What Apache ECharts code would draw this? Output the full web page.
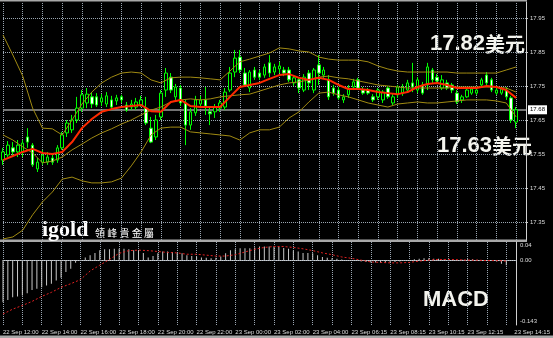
<!DOCTYPE html>
<html><head><meta charset="utf-8">
<script src="https://cdn.jsdelivr.net/npm/echarts@6/dist/echarts.min.js"></script>
<style>html,body{margin:0;padding:0;background:#000;}#c{width:553px;height:338px;}</style>
</head><body><div id="c"></div>
<script>
// ---- axis tick labels ----
const priceTicks = [17.35, 17.45, 17.55, 17.65, 17.75, 17.85, 17.95];
const macdTicks = [0.04, 0.00, -0.143];
const macdTickText = ['0.04', '0.00', '-0.143'];
const timeTicks = ['22 Sep 12:00','22 Sep 14:00','22 Sep 16:00','22 Sep 18:00','22 Sep 20:00','22 Sep 22:00',
  '23 Sep 00:00','23 Sep 02:00','23 Sep 04:00','23 Sep 06:15','23 Sep 08:15','23 Sep 10:15','23 Sep 12:15','23 Sep 14:15'];
const lastPrice = 17.68;

// ---- 15-minute candles: [open, high, low, close] ----
const ohlc = [
[17.532,17.568,17.518,17.556],[17.547,17.588,17.541,17.576],[17.568,17.585,17.544,17.556],[17.556,17.591,17.541,17.576],
[17.556,17.591,17.541,17.582],[17.600,17.626,17.568,17.585],[17.576,17.582,17.512,17.518],[17.506,17.538,17.497,17.526],
[17.526,17.562,17.518,17.547],[17.526,17.556,17.518,17.541],[17.538,17.547,17.518,17.526],[17.532,17.576,17.524,17.568],
[17.568,17.615,17.562,17.606],[17.612,17.650,17.600,17.641],[17.621,17.665,17.612,17.650],[17.650,17.718,17.641,17.685],
[17.685,17.738,17.674,17.724],[17.700,17.744,17.685,17.726],[17.718,17.732,17.685,17.697],[17.718,17.729,17.688,17.694],
[17.703,17.726,17.691,17.715],[17.697,17.732,17.688,17.721],[17.709,17.721,17.679,17.688],[17.706,17.724,17.694,17.715],
[17.718,17.724,17.700,17.709],[17.694,17.703,17.674,17.679],[17.688,17.709,17.679,17.697],[17.688,17.715,17.679,17.703],
[17.694,17.721,17.688,17.709],[17.685,17.718,17.635,17.641],[17.626,17.659,17.582,17.585],[17.600,17.665,17.591,17.650],
[17.659,17.738,17.650,17.729],[17.738,17.803,17.718,17.788],[17.776,17.788,17.729,17.738],[17.718,17.756,17.709,17.747],
[17.744,17.753,17.691,17.700],[17.700,17.709,17.576,17.635],[17.635,17.685,17.621,17.674],[17.671,17.721,17.662,17.709],
[17.697,17.721,17.685,17.709],[17.709,17.747,17.665,17.691],[17.674,17.688,17.635,17.668],[17.674,17.697,17.656,17.688],
[17.685,17.709,17.674,17.700],[17.688,17.744,17.679,17.732],[17.738,17.806,17.732,17.788],[17.791,17.856,17.776,17.832],
[17.835,17.856,17.788,17.797],[17.788,17.803,17.747,17.753],[17.744,17.797,17.732,17.791],[17.797,17.806,17.768,17.776],
[17.788,17.797,17.768,17.776],[17.782,17.815,17.774,17.806],[17.818,17.841,17.776,17.788],[17.791,17.815,17.782,17.806],
[17.800,17.821,17.788,17.809],[17.797,17.806,17.779,17.788],[17.797,17.806,17.762,17.768],[17.759,17.782,17.750,17.774],
[17.768,17.776,17.729,17.744],[17.738,17.785,17.732,17.776],[17.788,17.797,17.738,17.759],[17.738,17.803,17.729,17.797],
[17.812,17.841,17.753,17.788],[17.782,17.806,17.774,17.797],[17.768,17.782,17.709,17.718],[17.744,17.753,17.721,17.729],
[17.738,17.747,17.709,17.715],[17.709,17.726,17.700,17.718],[17.724,17.753,17.715,17.744],[17.747,17.771,17.738,17.762],
[17.768,17.774,17.738,17.744],[17.738,17.747,17.724,17.729],[17.738,17.744,17.724,17.729],[17.718,17.726,17.703,17.709],
[17.718,17.744,17.709,17.738],[17.709,17.738,17.700,17.732],[17.744,17.750,17.712,17.718],[17.700,17.726,17.694,17.718],
[17.724,17.753,17.715,17.747],[17.729,17.756,17.721,17.747],[17.738,17.768,17.732,17.759],[17.759,17.818,17.732,17.747],
[17.738,17.776,17.729,17.768],[17.753,17.762,17.724,17.729],[17.753,17.818,17.738,17.806],[17.797,17.803,17.759,17.768],
[17.776,17.785,17.756,17.765],[17.744,17.782,17.738,17.768],[17.759,17.768,17.738,17.744],[17.753,17.759,17.729,17.738],
[17.729,17.738,17.697,17.703],[17.709,17.724,17.700,17.718],[17.718,17.744,17.715,17.738],[17.729,17.747,17.724,17.741],
[17.729,17.744,17.724,17.738],[17.753,17.774,17.744,17.768],[17.782,17.791,17.747,17.759],[17.768,17.774,17.732,17.738],
[17.729,17.744,17.724,17.738],[17.729,17.747,17.724,17.741],[17.738,17.747,17.709,17.718],[17.715,17.721,17.641,17.650],
[17.644,17.688,17.626,17.680]
];

// ---- indicator lines, read every 2nd bar ----
const upperBand = [17.900,17.841,17.779,17.685,17.626,17.624,17.606,17.650,17.697,17.732,17.759,17.776,17.788,17.791,17.788,17.768,17.759,17.774,17.776,17.776,17.774,17.771,17.768,17.794,17.821,17.829,17.838,17.847,17.862,17.859,17.853,17.850,17.835,17.829,17.826,17.826,17.826,17.821,17.809,17.800,17.794,17.791,17.791,17.791,17.791,17.791,17.788,17.788,17.788,17.788,17.788,17.797,17.806];
const middleBand = [17.606,17.591,17.571,17.553,17.524,17.529,17.541,17.562,17.579,17.597,17.612,17.624,17.638,17.650,17.665,17.679,17.688,17.703,17.709,17.712,17.709,17.712,17.718,17.721,17.724,17.726,17.735,17.744,17.753,17.759,17.762,17.768,17.776,17.779,17.774,17.771,17.765,17.759,17.753,17.750,17.747,17.744,17.744,17.744,17.744,17.744,17.747,17.747,17.747,17.747,17.747,17.744,17.732];
const lowerBand = [17.300,17.306,17.326,17.371,17.409,17.438,17.476,17.482,17.471,17.465,17.465,17.468,17.479,17.515,17.556,17.606,17.626,17.629,17.629,17.615,17.612,17.609,17.606,17.603,17.591,17.612,17.621,17.621,17.629,17.656,17.674,17.703,17.729,17.732,17.724,17.718,17.709,17.700,17.694,17.688,17.697,17.700,17.703,17.700,17.700,17.703,17.706,17.709,17.709,17.709,17.706,17.700,17.659];
const redMA = [17.532,17.544,17.556,17.565,17.553,17.550,17.556,17.585,17.626,17.653,17.674,17.682,17.688,17.691,17.694,17.676,17.674,17.703,17.709,17.691,17.688,17.688,17.688,17.718,17.747,17.753,17.759,17.771,17.782,17.785,17.774,17.768,17.774,17.768,17.753,17.741,17.741,17.738,17.732,17.729,17.726,17.732,17.747,17.756,17.759,17.753,17.744,17.744,17.744,17.750,17.747,17.738,17.715];

// ---- MACD ----
const macdMain = [
-0.093,-0.088,-0.082,-0.080,-0.078,-0.073,-0.066,-0.063,-0.060,-0.056,
-0.052,-0.045,-0.039,-0.026,-0.019,-0.006,-0.002,0.006,0.011,0.016,
0.022,0.024,0.024,0.025,0.025,0.025,0.024,0.022,0.021,0.016,
0.006,0.009,0.015,0.019,0.019,0.018,0.016,0.015,0.011,0.009,
0.008,0.006,0.005,0.004,0.005,0.008,0.015,0.022,0.024,0.026,
0.026,0.026,0.028,0.030,0.030,0.030,0.030,0.029,0.027,0.025,
0.021,0.019,0.016,0.016,0.015,0.011,0.007,0.005,0.004,0.003,
0.0015,0.0005,0.0005,-0.0015,-0.003,-0.004,-0.005,-0.005,-0.006,-0.006,
-0.005,-0.004,-0.003,-0.002,-0.001,0.002,0.003,0.004,0.004,0.003,
0.003,0.001,0.0005,-0.001,0.0005,0.001,0.002,0.002,0.001,0.0005,
-0.001,-0.001,-0.003,-0.008,-0.011];
const signalLine = [-0.119,-0.108,-0.100,-0.091,-0.080,-0.071,-0.060,-0.052,-0.043,-0.024,-0.011,0.0015,0.015,0.021,0.022,0.021,0.019,0.017,0.016,0.013,0.013,0.011,0.009,0.009,0.012,0.018,0.024,0.028,0.030,0.030,0.028,0.025,0.021,0.016,0.012,0.007,0.004,0.000,-0.004,-0.005,-0.006,-0.006,-0.005,-0.002,0.000,0.0015,0.0015,0.001,0.000,0.000,-0.001,-0.001,-0.002];

// ---- build ----
const N = ohlc.length + 2; // chart shift: two empty slots on the right
const cats = Array.from({length: N}, (_, i) => String(i));
const pad = arr => { const o = new Array(N).fill(null); arr.forEach((v, i) => o[i] = v); return o; };
const every2 = arr => { const o = new Array(N).fill(null); arr.forEach((v, j) => o[2 * j] = v); return o; };
const candleData = ohlc.map(r => [r[0], r[3], r[2], r[1]]);
const gridCats = cats.filter((c, i) => i % 4 === 0); // a vertical grid line every 4 bars

const gridColor = '#9aa5b1';
const textColor = '#dcdcdc';
const bandColor = '#a08a12';
const gridLine = {color: gridColor, type: 'dotted', width: 1};
const gridItems = (hValues) => [
  ...hValues.map(v => ({yAxis: v, lineStyle: gridLine, label: {show: false}})),
  ...gridCats.map(c => ({xAxis: c, lineStyle: gridLine, label: {show: false}}))
];

const chart = echarts.init(document.getElementById('c'), null, {renderer: 'canvas'});
chart.setOption({
  backgroundColor: '#000000',
  animation: false,
  grid: [
    {left: 3, right: 27, top: 2, height: 238},
    {left: 3, right: 27, top: 242, height: 83}
  ],
  xAxis: [
    {type: 'category', gridIndex: 0, data: cats, boundaryGap: false,
     axisLine: {show: false}, axisTick: {show: false}, axisLabel: {show: false}, splitLine: {show: false}},
    {type: 'category', gridIndex: 1, data: cats, boundaryGap: false,
     axisLine: {show: true, lineStyle: {color: '#d0d0d0', width: 1}}, axisTick: {show: false},
     axisLabel: {interval: 7, align: 'left', color: textColor, fontSize: 6, margin: 4,
       fontFamily: 'Liberation Sans',
       formatter: (v) => { const k = Number(v) / 8; const t = timeTicks[k] || '';
         return k === timeTicks.length - 1 ? '{s|' + t + '}' : t; },
       rich: {s: {color: textColor, fontSize: 6, fontFamily: 'Liberation Sans', padding: [0, 0, 0, 8]}}},
     splitLine: {show: false}}
  ],
  yAxis: [
    {type: 'value', gridIndex: 0, position: 'right', min: 17.297, max: 17.997, scale: true,
     axisLine: {show: true, lineStyle: {color: '#cfcfcf', width: 1}},
     axisTick: {show: true, length: 2, customValues: priceTicks, lineStyle: {color: '#cfcfcf'}},
     axisLabel: {customValues: priceTicks, color: textColor, fontSize: 6, margin: 4, fontFamily: 'Liberation Sans',
       formatter: v => v.toFixed(2)},
     splitLine: {show: false}},
    {type: 'value', gridIndex: 1, position: 'right', min: -0.143, max: 0.04,
     axisLine: {show: true, lineStyle: {color: '#cfcfcf', width: 1}},
     axisTick: {show: false},
     axisLabel: {customValues: macdTicks, color: textColor, fontSize: 6, margin: 4, fontFamily: 'Liberation Sans',
       formatter: v => { const k = macdTicks.findIndex(t => Math.abs(t - v) < 1e-9); const s = macdTickText[k];
         if (k === 0) return '{t|' + s + '}'; if (k === 2) return '{b|' + s + '}'; return s; },
       rich: {t: {color: textColor, fontSize: 6, fontFamily: 'Liberation Sans', padding: [7, 0, 0, 0]},
              b: {color: textColor, fontSize: 6, fontFamily: 'Liberation Sans', padding: [0, 0, 7, 0]}}},
     splitLine: {show: false}}
  ],
  series: [
    {type: 'candlestick', xAxisIndex: 0, yAxisIndex: 0, data: candleData, barWidth: 3,
     itemStyle: {color: '#000000', color0: '#ffffff', borderColor: '#00ff00', borderColor0: '#00ff00', borderWidth: 1},
     markLine: {silent: true, symbol: ['none', 'none'], animation: false, z: 1,
       data: [
         ...gridItems(priceTicks),
         {yAxis: lastPrice, lineStyle: {color: '#9a9a9a', width: 1.5, type: 'solid'},
          label: {show: true, position: 'end', distance: 2, formatter: lastPrice.toFixed(2), color: '#000',
            backgroundColor: '#ffffff', fontSize: 6, fontFamily: 'Liberation Sans', padding: [2, 2, 1, 2]}}
       ]}},
    {type: 'line', xAxisIndex: 0, yAxisIndex: 0, data: every2(upperBand), connectNulls: true, showSymbol: false,
     lineStyle: {color: bandColor, width: 1}},
    {type: 'line', xAxisIndex: 0, yAxisIndex: 0, data: every2(middleBand), connectNulls: true, showSymbol: false,
     lineStyle: {color: bandColor, width: 1}},
    {type: 'line', xAxisIndex: 0, yAxisIndex: 0, data: every2(lowerBand), connectNulls: true, showSymbol: false,
     lineStyle: {color: bandColor, width: 1}},
    {type: 'line', xAxisIndex: 0, yAxisIndex: 0, data: every2(redMA), connectNulls: true, showSymbol: false,
     lineStyle: {color: '#ff2a00', width: 2}},
    {type: 'bar', xAxisIndex: 1, yAxisIndex: 1, data: pad(macdMain), barWidth: 1,
     itemStyle: {color: '#c8c8c8'},
     markLine: {silent: true, symbol: ['none', 'none'], animation: false, z: 1, data: gridItems([0])}},
    {type: 'line', xAxisIndex: 1, yAxisIndex: 1, data: every2(signalLine), connectNulls: true, showSymbol: false,
     lineStyle: {color: '#e02020', width: 1, type: [2, 2]}}
  ],
  graphic: [
    {type: 'rect', shape: {x: 0, y: 0, width: 527, height: 1.5}, style: {fill: '#a8a8a8'}, silent: true},
    {type: 'rect', shape: {x: 0, y: 239.5, width: 527, height: 2.5}, style: {fill: '#a8a8a8'}, silent: true},
    {type: 'rect', shape: {x: 0, y: 335.5, width: 553, height: 2.5}, style: {fill: '#a8a8a8'}, silent: true},
    {type: 'text', x: 430, y: 44, style: {text: '{d|17.82}{c|美元}', verticalAlign: 'middle',
      rich: {d: {fill: '#f4f4ee', fontSize: 22, fontWeight: 'bold', fontFamily: 'Liberation Sans'},
             c: {fill: '#f4f4ee', fontSize: 20, fontWeight: 'bold', fontFamily: 'Noto Sans CJK SC'}}}},
    {type: 'text', x: 437, y: 146, style: {text: '{d|17.63}{c|美元}', verticalAlign: 'middle',
      rich: {d: {fill: '#f4f4ee', fontSize: 22, fontWeight: 'bold', fontFamily: 'Liberation Sans'},
             c: {fill: '#f4f4ee', fontSize: 20, fontWeight: 'bold', fontFamily: 'Noto Sans CJK SC'}}}},
    {type: 'text', x: 423, y: 300, style: {text: 'MACD', fill: '#f4f4ee', fontSize: 22, fontWeight: 'bold',
      fontFamily: 'Liberation Sans', verticalAlign: 'middle'}},
    {type: 'text', x: 42, y: 230, style: {text: 'igold', fill: '#ffffff', fontSize: 22, fontWeight: 'bold',
      fontFamily: 'Liberation Serif', verticalAlign: 'middle'}},
    {type: 'text', x: 95, y: 233, style: {text: '領 峰 貴 金 屬', fill: '#ffffff', fontSize: 10,
      fontFamily: 'Noto Sans CJK TC', verticalAlign: 'middle'}}
  ]
});
</script></body></html>
